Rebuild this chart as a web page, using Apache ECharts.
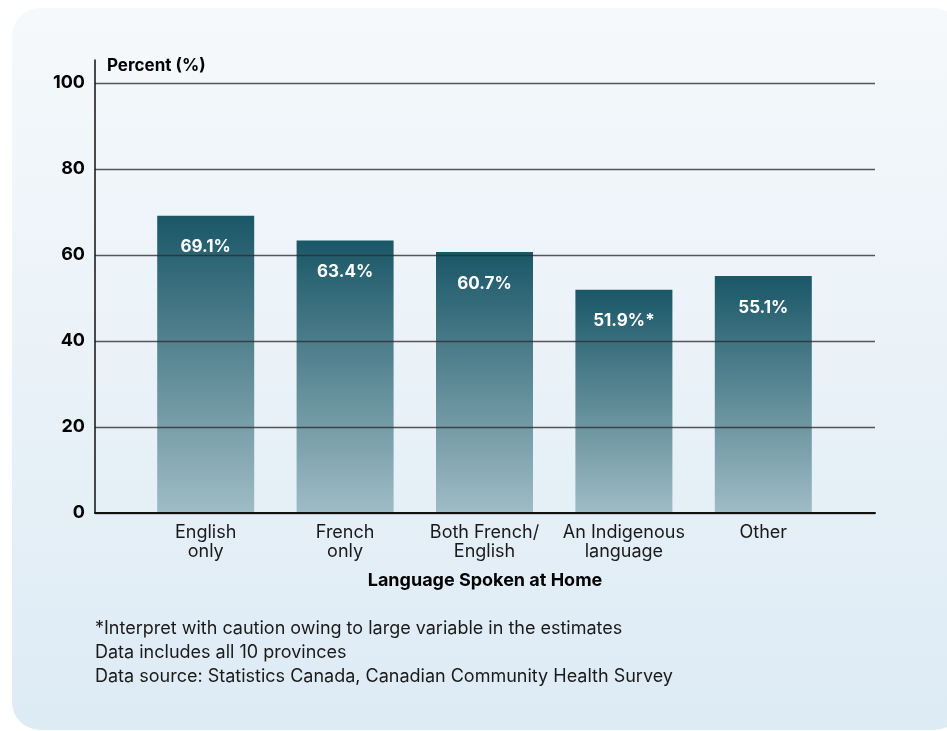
<!DOCTYPE html>
<html>
<head>
<meta charset="utf-8">
<script src="https://cdn.jsdelivr.net/npm/echarts@6/dist/echarts.min.js"></script>
<style>
	html, body { margin: 0; padding: 0; background: #ffffff; }
	#chart { width: 947px; height: 731px; }
</style>
</head>
<body>
<div id="chart"></div>
<script>
// 数据
var categories = ['English\nonly', 'French\nonly', 'Both French/\nEnglish', 'An Indigenous\nlanguage', 'Other'];
var values = [69.1, 63.4, 60.7, 51.9, 55.1];
var valueLabels = ['69.1%', '63.4%', '60.7%', '51.9%*', '55.1%'];
var yTicks = [0, 20, 40, 60, 80, 100];
var notes = [
	'*Interpret with caution owing to large variable in the estimates',
	'Data includes all 10 provinces',
	'Data source: Statistics Canada, Canadian Community Health Survey'
];

var fontFamily = 'Inter, "Noto Sans", sans-serif';
var textColor = '#1a1a1a';

var myChart = echarts.init(document.getElementById('chart'));

var option = {
	animation: false,
	textStyle: { fontFamily: fontFamily },
	graphic: [{
		type: 'rect',
		z: -10,
		shape: { x: 12, y: 8, width: 950, height: 722, r: 28 },
		style: {
			fill: new echarts.graphic.LinearGradient(0, 0, 0, 1, [
				{ offset: 0, color: '#f6f9fb' },
				{ offset: 1, color: '#ddebf5' }
			])
		}
	}, {
		type: 'text',
		left: 95,
		top: 617,
		style: {
			text: notes.join('\n'),
			fill: textColor,
			font: '18px ' + fontFamily,
			lineHeight: 24
		}
	}],
	grid: [
		// 轴线
		{ left: 95, right: 72, top: 60, bottom: 218 },
		// 网格线和刻度
		{ left: 95, right: 72, top: 83, bottom: 218 },
		// 柱子
		{ left: 136, right: 114, top: 83, bottom: 218 }
	],
	xAxis: [{
		gridIndex: 0,
		type: 'category',
		data: [''],
		axisLine: { show: true, lineStyle: { color: '#111', width: 2 } },
		axisTick: { show: false },
		axisLabel: { show: false },
		name: 'Language Spoken at Home',
		nameLocation: 'middle',
		nameGap: 59,
		nameTextStyle: { fontSize: 18, fontWeight: 'bold', color: '#000', fontFamily: fontFamily },
		z: 5
	}, {
		gridIndex: 1,
		type: 'category',
		data: [''],
		show: false
	}, {
		gridIndex: 2,
		type: 'category',
		data: categories,
		axisLine: { show: false },
		axisTick: { show: false },
		axisLabel: {
			interval: 0,
			margin: 10,
			fontSize: 18,
			lineHeight: 19,
			color: textColor,
			fontFamily: fontFamily
		}
	}],
	yAxis: [{
		gridIndex: 0,
		type: 'value',
		min: 0,
		max: 100,
		axisLine: { show: true, lineStyle: { color: '#111', width: 1.5 } },
		axisTick: { show: false },
		axisLabel: { show: false },
		splitLine: { show: false },
		z: 5
	}, {
		gridIndex: 1,
		type: 'value',
		min: 0,
		max: 100,
		interval: 20,
		axisLine: { show: false },
		axisTick: { show: false },
		axisLabel: {
			fontSize: 18,
			fontWeight: 'bold',
			color: '#000',
			margin: 10,
			fontFamily: fontFamily,
			formatter: function(v) {
				return yTicks.indexOf(v) >= 0 ? String(v) : '';
			}
		},
		splitLine: { show: true, lineStyle: { color: 'rgba(45,45,45,0.8)', width: 1.4 } },
		name: 'Percent (%)',
		nameLocation: 'end',
		nameGap: 9,
		nameTextStyle: {
			align: 'left',
			fontSize: 17,
			fontWeight: 'bold',
			color: '#000',
			padding: [0, 0, 0, 12],
			fontFamily: fontFamily
		},
		z: 4
	}, {
		gridIndex: 2,
		type: 'value',
		min: 0,
		max: 100,
		show: false
	}],
	series: [{
		type: 'bar',
		xAxisIndex: 2,
		yAxisIndex: 2,
		barWidth: 97,
		data: values,
		itemStyle: {
			color: new echarts.graphic.LinearGradient(0, 0, 0, 1, [
				{ offset: 0, color: '#1a5767' },
				{ offset: 1, color: '#9fbcc5' }
			])
		},
		label: {
			show: true,
			position: 'insideTop',
			distance: 23,
			color: '#ffffff',
			fontSize: 17,
			fontWeight: 'bold',
			fontFamily: fontFamily,
			formatter: function(p) {
				return valueLabels[p.dataIndex];
			}
		},
		z: 2
	}]
};

myChart.setOption(option);
</script>
</body>
</html>
